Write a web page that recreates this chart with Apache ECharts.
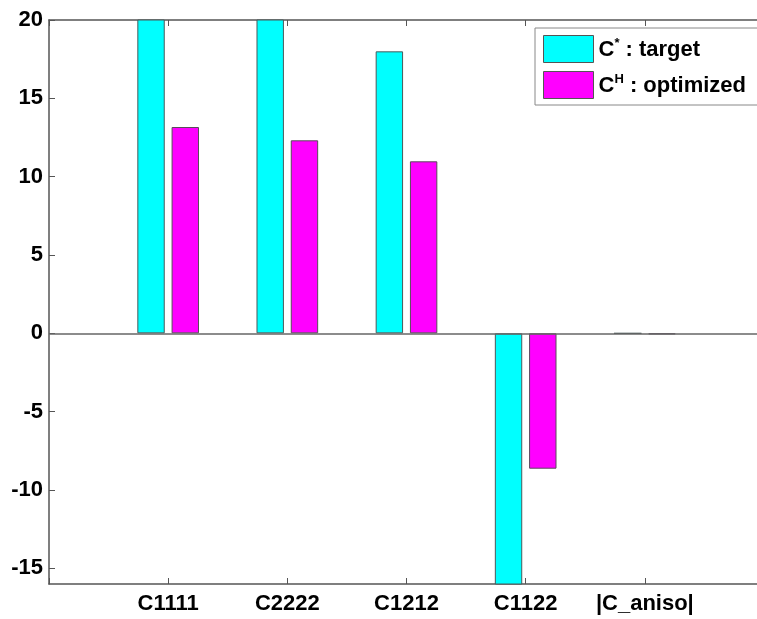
<!DOCTYPE html>
<html>
<head>
<meta charset="utf-8">
<script src="https://cdn.jsdelivr.net/npm/echarts@6/dist/echarts.min.js"></script>
<style>
html,body{margin:0;padding:0;background:#fff;}
#chart{width:757px;height:619px;}
</style>
</head>
<body>
<div id="chart"></div>
<script>
// Data
var categories = ['', 'C1111', 'C2222', 'C1212', 'C1122', '|C_aniso|', ''];
var targetValues = [null, 21.0, 20.8, 18.0, -16.4, 0, null];
var optimizedValues = [null, 13.17, 12.32, 10.98, -8.64, -0.06, null];
var yTicks = [-15, -10, -5, 0, 5, 10, 15, 20];
var seriesNames = ['C* : target', 'CH : optimized'];

var chart = echarts.init(document.getElementById('chart'), null, {renderer: 'canvas'});
var font = 'Liberation Sans, Arial, sans-serif';
var axisColor = '#555';

var option = {
  animation: false,
  backgroundColor: '#fff',
  grid: {left: 49, top: 20, right: -7, bottom: 35, containLabel: false, outerBoundsMode: 'none'},
  legend: {
    left: 535, top: 28,
    orient: 'vertical',
    icon: 'rect',
    itemWidth: 50, itemHeight: 27, itemGap: 8,
    padding: [7, 12, 6, 8],
    borderColor: '#888', borderWidth: 1,
    backgroundColor: '#fff',
    selectedMode: false,
    data: seriesNames,
    itemStyle: {borderColor: '#555', borderWidth: 1},
    formatter: function (name) {
      if (name === seriesNames[0]) return '{b|C}{sup|*}{b| : target}';
      return '{b|C}{sup|H}{b| : optimized}';
    },
    textStyle: {
      rich: {
        b: {fontFamily: font, fontWeight: 'bold', fontSize: 22, color: '#000', verticalAlign: 'bottom'},
        sup: {fontFamily: font, fontWeight: 'bold', fontSize: 13, color: '#000', padding: [0, 0, 11, 0]}
      }
    }
  },
  xAxis: [{
    type: 'category',
    data: categories,
    boundaryGap: false,
    position: 'bottom',
    axisLine: {show: true, onZero: false, lineStyle: {color: axisColor, width: 1.5}},
    axisTick: {show: true, inside: true, length: 6, lineStyle: {color: axisColor}},
    axisLabel: {show: true, margin: 9, fontFamily: font, fontWeight: 'bold', fontSize: 22, color: '#000', interval: 0},
    splitLine: {show: false}
  }, {
    type: 'category',
    data: categories,
    boundaryGap: false,
    position: 'top',
    axisLine: {show: true, onZero: false, lineStyle: {color: axisColor, width: 1.5}},
    axisTick: {show: true, inside: true, length: 6, lineStyle: {color: axisColor}},
    axisLabel: {show: false},
    splitLine: {show: false}
  }],
  yAxis: [{
    type: 'value',
    min: -16, max: 20,
    splitNumber: 7,
    axisLine: {show: true, onZero: false, lineStyle: {color: axisColor, width: 1.5}},
    axisTick: {show: true, inside: true, length: 6, lineStyle: {color: axisColor}, customValues: yTicks},
    axisLabel: {show: true, margin: 6, fontFamily: font, fontWeight: 'bold', fontSize: 22, color: '#000', customValues: yTicks},
    splitLine: {show: false}
  }],
  series: [{
    name: seriesNames[0],
    type: 'bar',
    data: targetValues,
    barWidth: '23%',
    barGap: '25%',
    clip: true,
    itemStyle: {color: '#00FFFF', borderColor: '#4a5a5a', borderWidth: 1},
    markLine: {
      silent: true, symbol: 'none', animation: false,
      label: {show: false},
      lineStyle: {color: '#666', type: 'solid', width: 1.5},
      data: [{yAxis: 0}]
    }
  }, {
    name: seriesNames[1],
    type: 'bar',
    data: optimizedValues,
    barWidth: '23%',
    barGap: '25%',
    clip: true,
    itemStyle: {color: '#FF00FF', borderColor: '#5a4a5a', borderWidth: 1}
  }]
};
chart.setOption(option);
</script>
</body>
</html>
